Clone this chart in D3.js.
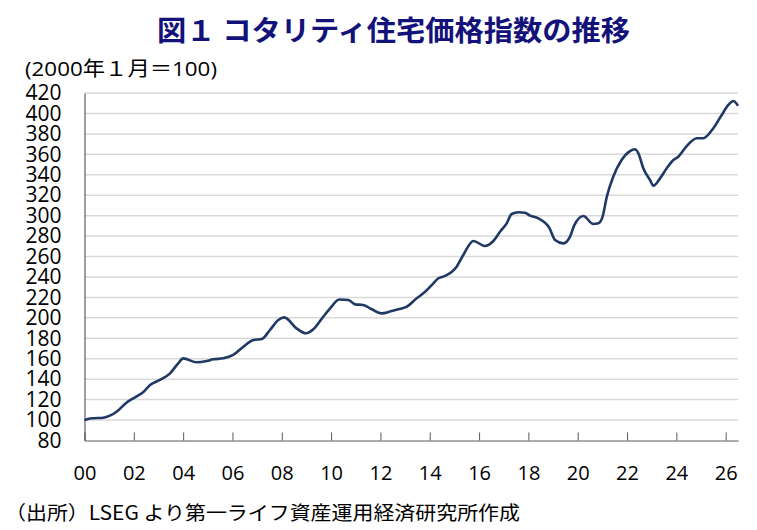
<!DOCTYPE html>
<html>
<head>
<meta charset="utf-8">
<script src="https://cdn.jsdelivr.net/npm/d3@7"></script>
<style>
  body { margin: 0; background: #fff; }
</style>
</head>
<body>
<script>
// 時点（年, 小数）と指数値（2000年1月=100）
var fechas = [2000.0, 2000.3, 2000.76, 2001.03, 2001.3, 2001.7, 2002.1, 2002.4, 2002.66, 2003.06,
    2003.47, 2003.8, 2004.0, 2004.55, 2004.96, 2005.22, 2005.63, 2006.03, 2006.44, 2006.85,
    2007.19, 2007.52, 2007.86, 2008.1, 2008.6, 2008.98, 2009.28, 2009.68, 2009.96,
    2010.33, 2010.7, 2010.97, 2011.3, 2011.65, 2012.05, 2012.46, 2012.73, 2013.07, 2013.47,
    2013.74, 2014.08, 2014.35, 2014.62, 2015.09, 2015.36, 2015.77, 2016.24, 2016.58, 2016.85,
    2017.12, 2017.32, 2017.59, 2017.86, 2018.07, 2018.4, 2018.85, 2019.08, 2019.42, 2019.69,
    2019.85, 2020.23, 2020.63, 2020.84, 2021.01, 2021.18, 2021.44, 2021.78, 2022.12, 2022.32,
    2022.46, 2022.66, 2022.93, 2023.07, 2023.34, 2023.61, 2023.88, 2024.08, 2024.42, 2024.83,
    2025.09, 2025.5, 2025.84, 2026.11, 2026.31, 2026.5];
var indice = [100, 101.7, 102.3, 104.3, 108.2, 117, 122.9, 127.8, 134.3, 139.2,
    145.7, 155.5, 160.4, 156.5, 157.8, 159.4, 160.4, 163.7, 171.8, 178.3,
    179.3, 188.1, 197.9, 200.5, 189.7, 184.9, 188.8, 201.1, 209.3,
    218, 217.5, 213.2, 212.6, 208.4, 204.4, 206.7, 208.4, 210.9, 219.1,
    224, 232.1, 238.7, 241, 250, 261.5, 275.2, 270.3, 275.2, 284.3,
    292.5, 301.6, 303.3, 302.9, 300, 297.4, 288, 276.2, 272.9, 279.4,
    290, 299.6, 291.8, 292.5, 299, 318.5, 338.1, 354.4, 363.2, 364.9,
    361, 346.3, 334.9, 329.3, 336.5, 346.3, 354.4, 357.7, 368.1, 375.7,
    375.7, 385.5, 398.5, 408.3, 412.2, 407.6];
var anosTicks = [2000, 2002, 2004, 2006, 2008, 2010, 2012, 2014, 2016, 2018, 2020, 2022, 2024, 2026];
var valoresY = [80, 100, 120, 140, 160, 180, 200, 220, 240, 260, 280, 300, 320, 340, 360, 380, 400, 420];

var titulo = "図１ コタリティ住宅価格指数の推移";
var unidad = "(2000年１月＝100)";
var fuente = "（出所）LSEG より第一ライフ資産運用経済研究所作成";

function graficar() {
    var width = 757;
    var height = 530;

    var svg = d3.select('body')
        .append('svg')
        .attr('width', width)
        .attr('height', height);

    var x = d3.scaleLinear().domain([2000, 2026.5]).range([84.5, 738]);
    var y = d3.scaleLinear().domain([80, 420]).range([440.5, 93]);

    // グリッド
    svg.append('g')
        .selectAll('line')
        .data(valoresY.filter(function (d) { return d > 80; }))
        .enter()
        .append('line')
        .attr('x1', x(2000))
        .attr('x2', x(2026.5))
        .attr('y1', function (d) { return y(d); })
        .attr('y2', function (d) { return y(d); })
        .attr('stroke', '#d9d9d9')
        .attr('stroke-width', 1.5);

    // 横軸
    var ejeX = svg.append('g')
        .attr('transform', 'translate(0,' + y(80) + ')')
        .call(d3.axisBottom(x)
            .tickValues(anosTicks)
            .tickSizeInner(-8)
            .tickSizeOuter(0)
            .tickPadding(25)
            .tickFormat(function (d) { return String(d).slice(2); }));
    ejeX.select('.domain').attr('stroke', '#595959');
    ejeX.selectAll('line').attr('stroke', '#595959');
    ejeX.selectAll('text')
        .attr('font-family', 'Open Sans, sans-serif')
        .attr('font-size', 20)
        .attr('fill', '#000');

    // 縦軸
    var ejeY = svg.append('g')
        .attr('transform', 'translate(' + x(2000) + ',0)')
        .call(d3.axisLeft(y)
            .tickValues(valoresY)
            .tickSize(0)
            .tickPadding(23));
    ejeY.select('.domain').attr('stroke', '#404040');
    ejeY.selectAll('text')
        .attr('font-family', 'Open Sans, sans-serif')
        .attr('font-size', 21)
        .attr('fill', '#000');

    // 折れ線
    var puntos = fechas.map(function (f, i) { return [f, indice[i]]; });
    var linea = d3.line()
        .x(function (d) { return x(d[0]); })
        .y(function (d) { return y(d[1]); })
        .curve(d3.curveMonotoneX);

    svg.append('path')
        .datum(puntos)
        .attr('d', linea)
        .attr('fill', 'none')
        .attr('stroke', '#1f3864')
        .attr('stroke-width', 2.6)
        .attr('stroke-linejoin', 'round');

    // テキスト
    svg.append('text')
        .attr('x', 393.5)
        .attr('y', 29)
        .attr('text-anchor', 'middle')
        .attr('dominant-baseline', 'central')
        .attr('font-family', 'Noto Sans CJK JP, sans-serif')
        .attr('font-weight', 'bold')
        .attr('font-size', 28)
        .attr('fill', '#12127a')
        .attr('textLength', 473)
        .attr('lengthAdjust', 'spacingAndGlyphs')
        .text(titulo);

    svg.append('text')
        .attr('x', 25)
        .attr('y', 68)
        .attr('dominant-baseline', 'central')
        .attr('font-family', 'Open Sans, Noto Sans CJK JP, sans-serif')
        .attr('font-size', 20)
        .attr('fill', '#000')
        .attr('textLength', 192)
        .attr('lengthAdjust', 'spacingAndGlyphs')
        .text(unidad);

    svg.append('text')
        .attr('x', 5)
        .attr('y', 511)
        .attr('dominant-baseline', 'central')
        .attr('font-family', 'Noto Sans CJK JP, sans-serif')
        .attr('font-size', 19.5)
        .attr('fill', '#000')
        .attr('textLength', 515)
        .attr('lengthAdjust', 'spacingAndGlyphs')
        .text(fuente);
}

graficar();
</script>
</body>
</html>
